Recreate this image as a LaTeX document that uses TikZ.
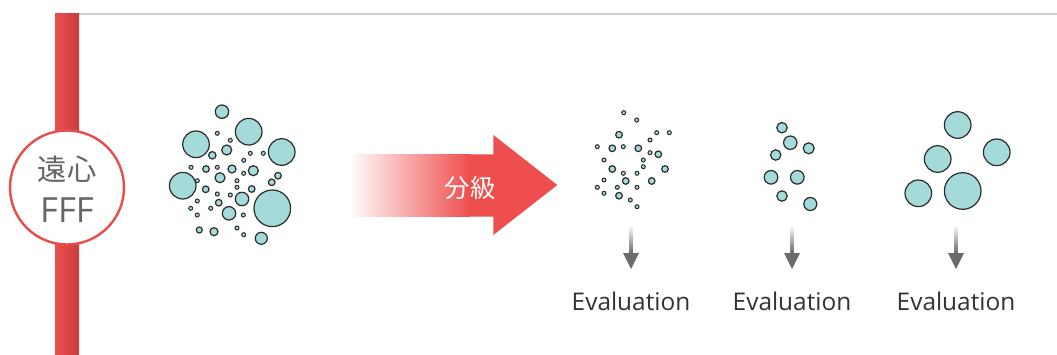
\documentclass[tikz,border=0pt]{standalone}
\usepackage{fontspec}
\setmainfont{Open Sans}
\newfontfamily\jpfont{Noto Sans CJK JP}
\definecolor{barL}{HTML}{EC4E4E}
\definecolor{barR}{HTML}{C73E3E}
\definecolor{circred}{HTML}{EA4C4C}
\definecolor{arrred}{HTML}{EF4E4E}
\definecolor{teal}{HTML}{A4DBDA}
\definecolor{ink}{HTML}{2B2B2B}
\definecolor{txtgray}{HTML}{666666}
\definecolor{txtdark}{HTML}{333333}
\definecolor{arrgray}{HTML}{6B6B6B}
\definecolor{linegray}{HTML}{D0D0D0}
\tikzset{
  particle/.style={fill=teal, draw=ink, line width=0.9pt},
  dotp/.style={fill=teal, draw=ink, line width=0.75pt},
  evallabel/.style={font=\fontsize{18.3}{18.3}\selectfont, text=txtdark, inner sep=0pt},
}
\begin{document}
\begin{tikzpicture}[x=0.75pt,y=-0.75pt]
\useasboundingbox (0,0) rectangle (1057,354);
\fill[white] (0,0) rectangle (1057,354);
% top line and bar
\draw[linegray, line width=0.9pt] (79,14) -- (1057,14);
\shade[left color=barL, right color=barR] (55,13) rectangle (79,354);
\node[circle, draw=circred, line width=1.8pt, fill=white, minimum size=85.5pt, inner sep=0pt] (cf) at (67,187.5) {};
\node[text=txtgray, font=\jpfont\fontsize{22}{22}\selectfont, inner sep=0pt] (t1) at (67,169.5) {遠心};
\node[text=txtgray, font=\fontsize{26}{26}\selectfont, inner sep=0pt] (t2) at (67,210) {FFF};
% mixed cluster
\foreach \x/\y/\r in {222/111.7/6.7, 248.7/131.7/13.3, 196/144.3/13.3, 281.7/152/13.3, 182.7/185.7/13.3, 272.3/208.3/18.3,
  226.7/150/5, 212.3/155.3/3.7, 253.3/170.7/5, 232/169/4, 220/177.7/5, 206/169/3.3, 205.7/189.3/3.3, 251.7/189/3.3,
  242/199/6.7, 218.7/202.7/3.3, 229/213.3/6.7, 278/175.7/3.3, 271.7/182.3/3.3, 199.3/230/3, 214/231.7/4, 261.3/238.3/6}
  \draw[particle] (\x,\y) circle[radius=\r];
\foreach \x/\y in {217.3/133.3, 230.3/140.3, 250.3/153.3, 263.3/153.3, 243.7/160.3, 191/167.3, 243.7/173.3,
  217.3/167.3, 197.3/180.7, 237/180.7, 237/187.3, 217.3/194, 230.3/195, 197.3/201,
  190.7/208.3, 210.7/208.3, 197.3/215, 243.3/215, 237/228, 243.7/234.7}
  \draw[dotp] (\x,\y) circle[radius=2];
% arrow
\fill[arrred] (353,154.3) -- (493.3,154.3) -- (493.3,135) -- (557.3,185) -- (493.3,235) -- (493.3,216.7) -- (353,216.7) -- cycle;
\shade[left color=arrred!4, right color=arrred] (353,154.3) rectangle (470,216.7);
\node[text=white, font=\jpfont\fontsize{19}{19}\selectfont, inner sep=0pt] (cls) at (470,188) {分級};
% group 1 (fine)
\foreach \x/\y in {619/134.7, 612.3/148.3, 638.3/148.3, 658.3/154.3, 612.3/169, 665/169, 625.7/181, 651.7/181, 619/195.7}
  \draw[particle] (\x,\y) circle[radius=3.3];
\foreach \x/\y in {623.7/112.7, 636.7/120, 656.7/132.7, 669.3/132.7, 650/140, 597.3/146.7, 623.3/146.7, 650/152.7,
  604/160, 643.3/160, 643.3/166.7, 623.3/173.3, 637/173.3, 604/180, 597.3/187.3, 617.3/187.3,
  637/187.3, 604/193.3, 630.3/200, 637/206.7}
  \draw[dotp] (\x,\y) circle[radius=2];
% group 2 (medium)
\foreach \x/\y/\r in {782/127.7/5.2, 790.3/142.7/6.7, 808.7/148.3/5.5, 775.7/155/5.2, 771/177.3/6.8, 797.3/177.3/6.8, 782/196/5.2, 810.3/204/6.5}
  \draw[particle] (\x,\y) circle[radius=\r];
% group 3 (coarse)
\foreach \x/\y/\r in {957.7/125/13.3, 996.7/152.3/13.3, 937.7/159/13.3, 918.3/193.3/13.3, 962.7/191/18.3}
  \draw[particle] (\x,\y) circle[radius=\r];
% evaluation arrows and labels
\foreach \i/\x in {1/631, 2/792, 3/956} {
  \coordinate (s\i) at (\x,225);
  \node[evallabel] (e\i) at (\x,301) {Evaluation};
  \shade[top color=white, bottom color=arrgray] ([xshift=-1.2pt]s\i) rectangle ([xshift=1.2pt,yshift=-21pt]s\i);
  \fill[arrgray] ([xshift=-6pt,yshift=-21pt]s\i) -- ([xshift=6pt,yshift=-21pt]s\i) -- ([yshift=-33pt]s\i) -- cycle;
}
\end{tikzpicture}
\end{document}
